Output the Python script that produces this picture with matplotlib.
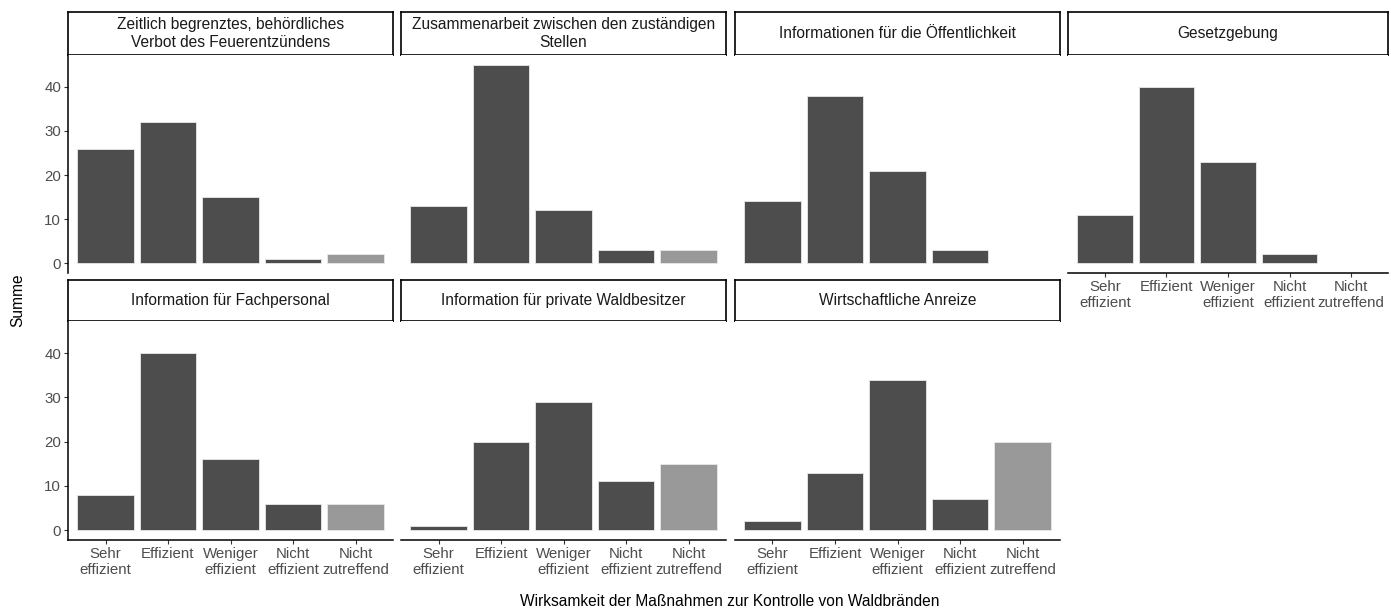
import matplotlib
matplotlib.use("Agg")
import matplotlib.pyplot as plt

plt.rcParams['font.family'] = ['Liberation Sans', 'DejaVu Sans']

categories = ["Sehr\neffizient", "Effizient", "Weniger\neffizient", "Nicht\neffizient", "Nicht\nzutreffend"]

panel_titles = [
    "Zeitlich begrenztes, behördliches\nVerbot des Feuerentzündens",
    "Zusammenarbeit zwischen den zuständigen\nStellen",
    "Informationen für die Öffentlichkeit",
    "Gesetzgebung",
    "Information für Fachpersonal",
    "Information für private Waldbesitzer",
    "Wirtschaftliche Anreize",
]

verbot = [26, 32, 15, 1, 2]
zusammenarbeit = [13, 45, 12, 3, 3]
oeffentlichkeit = [14, 38, 21, 3, 0]
gesetzgebung = [11, 40, 23, 2, 0]
fachpersonal = [8, 40, 16, 6, 6]
waldbesitzer = [1, 20, 29, 11, 15]
anreize = [2, 13, 34, 7, 20]

panel_values = [verbot, zusammenarbeit, oeffentlichkeit, gesetzgebung,
                fachpersonal, waldbesitzer, anreize]

DARK = "#4d4d4d"
LIGHT = "#999999"
bar_colors = [DARK, DARK, DARK, DARK, LIGHT]

W, H = 1391, 608
fig = plt.figure(figsize=(W / 100, H / 100), dpi=100)


def px_axes(x0, y0, x1, y1):
    # pixel box (top-left origin) -> figure axes
    return fig.add_axes([x0 / W, 1 - y1 / H, (x1 - x0) / W, (y1 - y0) / H])


col_x = [(68, 393), (401, 726), (735, 1060), (1068, 1388)]
rows = [(12, 55, 273), (280, 321, 540)]

ymax = 45
for i, (title, vals) in enumerate(zip(panel_titles, panel_values)):
    r, c = divmod(i, 4)
    x0, x1 = col_x[c]
    s0, s1, p1 = rows[r]

    # strip
    sax = px_axes(x0, s0, x1, s1)
    sax.set_xticks([])
    sax.set_yticks([])
    for sp in sax.spines.values():
        sp.set_color("black")
        sp.set_linewidth(1.2)
    sax.text(0.5, 0.5, title, ha="center", va="center", fontsize=11.2,
             color="#1a1a1a", transform=sax.transAxes, linespacing=1.3)

    ax = px_axes(x0, s1, x1, p1)
    xs = [k + 1 for k, v in enumerate(vals) if v > 0]
    hs = [v for v in vals if v > 0]
    cs = [bar_colors[k] for k, v in enumerate(vals) if v > 0]
    ax.bar(xs, hs, width=0.9, color=cs, edgecolor="#e8e8e8", linewidth=0.6)
    ax.set_xlim(0.4, 5.6)
    ax.set_ylim(-0.05 * ymax, 1.05 * ymax)
    ax.spines["top"].set_visible(False)
    ax.spines["right"].set_visible(False)
    for sp in ("left", "bottom"):
        ax.spines[sp].set_linewidth(1.1)
        ax.spines[sp].set_color("black")

    ax.set_yticks([0, 10, 20, 30, 40])
    ax.tick_params(axis="both", colors="#333333", labelcolor="#4d4d4d",
                   labelsize=10.8, length=3, width=0.8)
    if c == 0:
        ax.tick_params(axis="y", pad=2)
    else:
        ax.spines["left"].set_visible(False)
        ax.tick_params(axis="y", left=False, labelleft=False)

    show_x = (r == 1) or (i == 3)
    if show_x:
        ax.set_xticks(range(1, len(categories) + 1))
        ax.set_xticklabels(categories, linespacing=1.2)
        ax.tick_params(axis="x", pad=2)
    else:
        ax.spines["bottom"].set_visible(False)
        ax.set_xticks([])

fig.text(730 / W, 1 - 601 / H, "Wirksamkeit der Maßnahmen zur Kontrolle von Waldbränden",
         ha="center", va="center", fontsize=11.2, color="black")
fig.text(18 / W, 1 - 300 / H, "Summe", ha="center", va="center", rotation=90,
         fontsize=11.2, color="black")

fig.savefig("out.png", dpi=100, facecolor="white")
